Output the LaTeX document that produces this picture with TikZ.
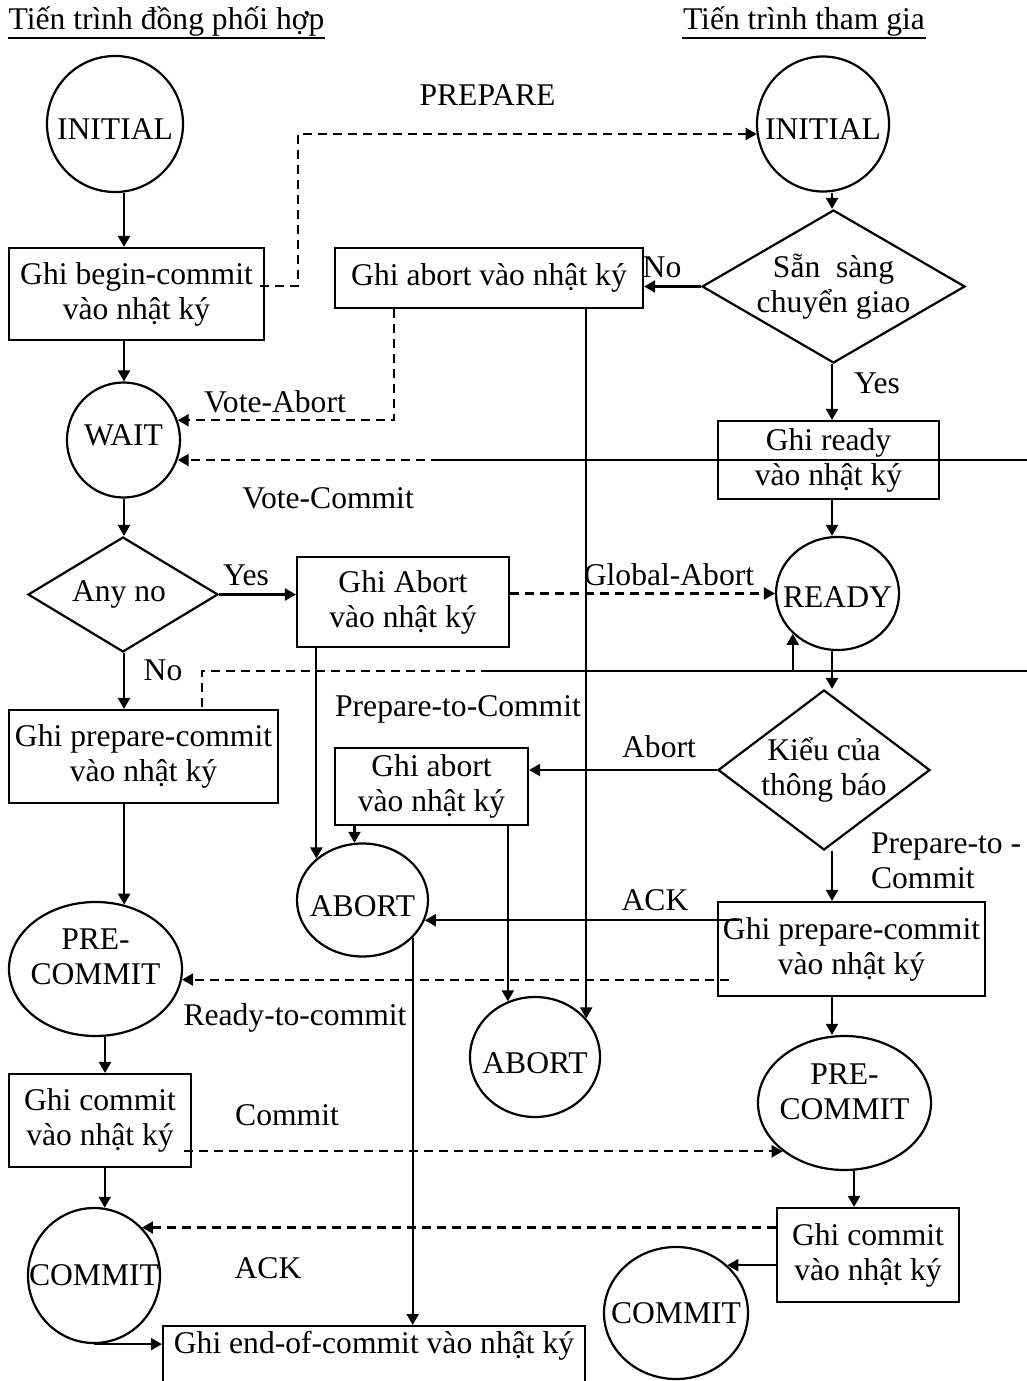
\documentclass[tikz,border=0pt]{standalone}
\usepackage{fontspec}
\setmainfont{Liberation Serif}
\usetikzlibrary{arrows.meta,shapes.geometric}
\begin{document}
\begin{tikzpicture}[x=1pt,y=-1pt,
  font=\fontsize{31.6pt}{35pt}\selectfont,
  line width=2.2pt,
  logbox/.style={draw,rectangle,inner sep=0pt,align=center},
  state/.style={draw,ellipse,inner sep=0pt},
  choice/.style={draw,diamond,inner sep=0pt},
  flow/.style={-{Triangle[length=11pt,width=12pt]}},
  msgline/.style={dash pattern=on 9pt off 6pt},
  msg/.style={flow,msgline},
  tag/.style={inner sep=0pt,anchor=base},
  inlbl/.style={align=center,inner sep=0pt}]
\useasboundingbox (0,0) rectangle (1027,1381);

% column titles
\node[tag] (tCoord) at (166.5,30) {Tiến trình đồng phối hợp};
\node[tag] (tPart) at (804,30) {Tiến trình tham gia};
\draw[line width=2pt] ([yshift=-8pt]tCoord.base west) -- ([yshift=-8pt]tCoord.base east);
\draw[line width=2pt] ([yshift=-8pt]tPart.base west) -- ([yshift=-8pt]tPart.base east);

% log boxes
\node[logbox,minimum width=255pt,minimum height=92pt] (bBegin) at (136.5,294) {Ghi begin-commit\\vào nhật ký};
\node[logbox,minimum width=308pt,minimum height=60pt] (bAbortTop) at (489,278) {Ghi abort vào nhật ký};
\node[logbox,minimum width=221pt,minimum height=78pt] (bReady) at (828.5,460) {Ghi ready\\vào nhật ký};
\node[logbox,minimum width=212pt,minimum height=90pt] (bAbortL) at (403,602) {Ghi Abort\\vào nhật ký};
\node[logbox,minimum width=269pt,minimum height=93pt] (bPrepL) at (143.5,756.5) {Ghi prepare-commit\\vào nhật ký};
\node[logbox,minimum width=193pt,minimum height=77pt] (bAbortM) at (431.5,786.5) {Ghi abort\\vào nhật ký};
\node[logbox,minimum width=267pt,minimum height=94pt] (bPrepR) at (851.5,949) {Ghi prepare-commit\\vào nhật ký};
\node[logbox,minimum width=182pt,minimum height=93pt] (bCommitL) at (100,1120.5) {Ghi commit\\vào nhật ký};
\node[logbox,minimum width=182pt,minimum height=94pt] (bCommitR) at (868,1255) {Ghi commit\\vào nhật ký};
\node[logbox,anchor=north,minimum width=422pt,inner ysep=5pt,text height=22pt,text depth=50pt] (bEnd) at (374,1325) {Ghi end-of-commit vào nhật ký};

% states
\node[state,minimum width=136pt,minimum height=136pt,label={[inlbl,yshift=-5pt]center:INITIAL}] (cInitL) at (115,124) {};
\node[state,minimum width=113pt,minimum height=115pt,label={[inlbl,yshift=5pt]center:WAIT}] (cWait) at (123.5,440) {};
\node[state,minimum width=173pt,minimum height=134pt,label={[inlbl,yshift=12pt]center:PRE-\\COMMIT}] (cPreL) at (95.5,969) {};
\node[state,minimum width=131pt,minimum height=113pt,label={[inlbl,yshift=-6pt]center:ABORT}] (cAbortM) at (362.5,900) {};
\node[state,minimum width=130pt,minimum height=120pt,label={[inlbl,yshift=-6pt]center:ABORT}] (cAbort2) at (535,1057) {};
\node[state,minimum width=132pt,minimum height=135pt,label={[inlbl]center:COMMIT}] (cCommitL) at (94,1275.5) {};
\node[state,minimum width=132pt,minimum height=135pt,label={[inlbl,yshift=-5pt]center:INITIAL}] (cInitR) at (823,124) {};
\node[state,minimum width=123pt,minimum height=113pt,label={[inlbl,yshift=-4pt]center:READY}] (cReady) at (837.5,593.5) {};
\node[state,minimum width=173pt,minimum height=134pt,label={[inlbl,yshift=11pt]center:PRE-\\COMMIT}] (cPreR) at (844.5,1103) {};
\node[state,minimum width=144pt,minimum height=132pt,label={[inlbl]center:COMMIT}] (cCommitR) at (676,1313) {};

% decisions
\node[choice,minimum width=263pt,minimum height=153pt,label={[inlbl]center:Sẵn\ \ sàng\\chuyển giao}] (dReady) at (833.5,286.5) {};
\node[choice,minimum width=190pt,minimum height=115pt,label={[inlbl,xshift=-4pt]center:Any no}] (dAny) at (123,594.5) {};
\node[choice,minimum width=212pt,minimum height=160pt,label={[inlbl]center:Kiểu của\\thông báo}] (dKind) at (824,770) {};

% message and branch labels
\node[tag] (lPrepare) at (487.5,105) {PREPARE};
\node[tag] (lNoR) at (662,277) {No};
\node[tag] (lYesR) at (877,393) {Yes};
\node[tag] (lVoteAbort) at (275,412) {Vote-Abort};
\node[tag] (lVoteCommit) at (328,508) {Vote-Commit};
\node[tag] (lYesL) at (246,585) {Yes};
\node[tag] (lGlobalAbort) at (669,585) {Global-Abort};
\node[tag] (lNoL) at (163,680) {No};
\node[tag] (lPrepCommit) at (458,716) {Prepare-to-Commit};
\node[tag] (lAbort) at (659,757) {Abort};
\node[tag,anchor=base west] (lPtcA) at (870,853) {Prepare-to -};
\node[tag,anchor=base west] (lPtcB) at (870,888) {Commit};
\node[tag] (lAckR) at (655,910) {ACK};
\node[tag] (lReadyCommit) at (295,1025) {Ready-to-commit};
\node[tag] (lCommit) at (287,1125) {Commit};
\node[tag] (lAckL) at (268,1278) {ACK};

% helper points
\coordinate (xL) at (124,0);
\coordinate (xR) at (832,0);
\coordinate (kPrep) at (298,134);
\coordinate (kVA) at (394,0);
\coordinate (eVC) at (1027,460);
\coordinate (mVC) at (440,460);
\coordinate (ePC) at (1027,671);
\coordinate (mPC) at (490,671);
\coordinate (kPC) at (202,671);
\coordinate (ackR) at ([xshift=22pt]bPrepR.west);
\coordinate (rtcR) at ([xshift=12pt]bPrepR.west);
\coordinate (cmL) at ([xshift=-8pt]bCommitL.east);

% coordinator flow
\draw[flow] (cInitL.south -| xL) -- (bBegin.north -| xL);
\draw[msg] ([shift={(-5,-8)}]bBegin.east) -| (kPrep) -- (kPrep -| cInitR.189);
\draw[flow] (bBegin.south -| xL) -- (cWait.north -| xL);
\draw[msg] (bAbortTop.south -| kVA) |- (cWait.20);
\draw (eVC) -- (mVC);
\draw[msg] (mVC) -- (mVC -| cWait.340);
\draw[flow] (cWait.south -| xL) -- (dAny.north -| xL);
\draw[flow] (dAny.east) -- (dAny.east -| bAbortL.west);
\draw[msg] (cReady.west -| bAbortL.east) -- (cReady.west);
\draw[flow] (bAbortL.south -| cAbortM.138) -- (cAbortM.138);
\draw[flow] (dAny.south -| xL) -- (bPrepL.north -| xL);
\draw (ePC) -- (mPC);
\draw[msgline] (mPC) -- (kPC) -- (kPC |- bPrepL.north);
\draw[flow] (cReady.222 |- ePC) -- (cReady.222);
\draw[flow] (bPrepL.south -| cPreL.66) -- (cPreL.66);
\draw[flow] (cPreL.278) -- (cPreL.278 |- bCommitL.north);
\draw[msg] (cmL |- cPreR.218) -- (cPreR.218);
\draw[flow] (bCommitL.south -| cCommitL.81) -- (cCommitL.81);
\draw[flow] (cCommitL.south) -- (cCommitL.south -| bEnd.west);
\draw[flow] (cAbortM.323) -- (cAbortM.323 |- bEnd.north);

% participant flow
\draw[flow] (cInitR.south -| xR) -- (dReady.north -| xR);
\draw[flow] (dReady.west) -- (dReady.west -| bAbortTop.east);
\draw[flow] (bAbortTop.south -| cAbort2.37) -- (cAbort2.37);
\draw[flow] (dReady.south -| xR) -- (bReady.north -| xR);
\draw[flow] (bReady.south -| xR) -- (cReady.north -| xR);
\draw[flow] (cReady.south -| xR) -- (dKind.north -| xR);
\draw[flow] (dKind.west) -- (dKind.west -| bAbortM.east);
\draw[flow] (bAbortM.south -| cAbortM.98) -- (cAbortM.98);
\draw[flow] (bAbortM.south -| cAbort2.116) -- (cAbort2.116);
\draw[flow] (dKind.south -| xR) -- (bPrepR.north -| xR);
\draw[flow] (ackR |- cAbortM.342) -- (cAbortM.342);
\draw[msg] (rtcR |- cPreL.353) -- (cPreL.353);
\draw[flow] (bPrepR.south -| xR) -- (cPreR.north -| xR);
\draw[flow] (cPreR.278) -- (cPreR.278 |- bCommitR.north);
\draw[msg] (bCommitR.west |- cCommitL.45) -- (cCommitL.45);
\draw[flow] (bCommitR.west |- cCommitR.43) -- (cCommitR.43);
\end{tikzpicture}
\end{document}
